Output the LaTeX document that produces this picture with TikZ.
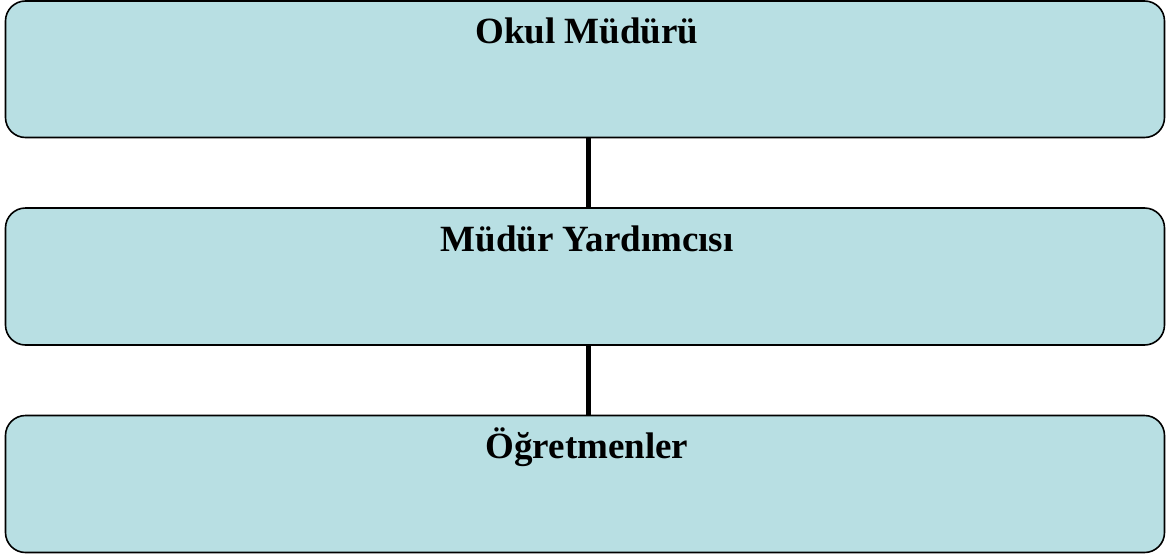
\documentclass[tikz,border=0pt]{standalone}
\usepackage{fontspec}
\setmainfont{Liberation Serif}
\definecolor{boxfill}{RGB}{184,223,227}
\begin{document}
\begin{tikzpicture}[x=1pt,y=-1pt,
  orgbox/.style={draw=black, line width=1.6pt, fill=boxfill, rounded corners=20pt},
  orgtext/.style={font=\fontsize{37}{44}\selectfont\bfseries, anchor=base, inner sep=0pt},
  link/.style={draw=black, line width=5pt}]
\useasboundingbox (0,0) rectangle (1166,557);
\draw[orgbox] (5.5,1) rectangle (1164.5,137.5);
\draw[orgbox] (5.5,208) rectangle (1164.5,345);
\draw[orgbox] (5.5,415.5) rectangle (1164.5,552.5);
\coordinate (b1) at (588,137.5);
\coordinate (t2) at (588,208);
\coordinate (b2) at (588,345);
\coordinate (t3) at (588,415.5);
\node[orgtext] (n1) at (587,43) {Okul Müdürü};
\node[orgtext] (n2) at (587,251) {Müdür Yardımcısı};
\node[orgtext] (n3) at (587,458) {Öğretmenler};
\draw[link] (b1) -- (t2);
\draw[link] (b2) -- (t3);
\end{tikzpicture}
\end{document}
